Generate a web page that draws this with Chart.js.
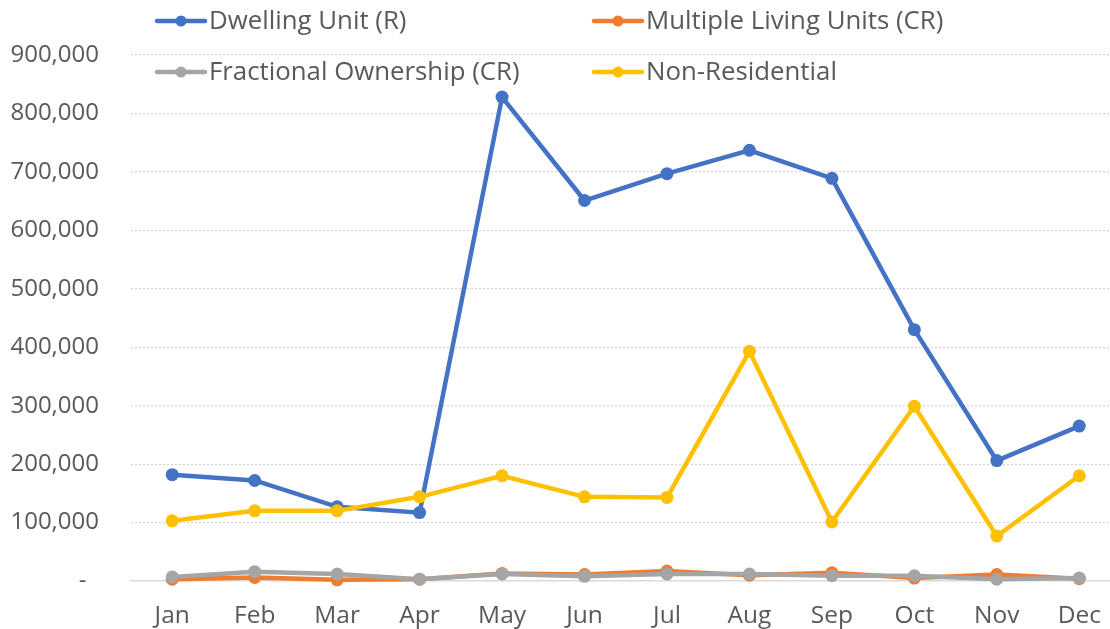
<!DOCTYPE html>
<html>
<head>
<meta charset="utf-8">
<script src="https://cdn.jsdelivr.net/npm/chart.js@4/dist/chart.umd.min.js"></script>
<style>
  html, body { margin: 0; padding: 0; background: #fff; overflow: hidden; }
  #wrap { width: 1127px; height: 629px; }
</style>
</head>
<body>
<div id="wrap"><canvas id="lineChart" width="1127" height="629"></canvas></div>
<script>
// chart values
const months = ['Jan', 'Feb', 'Mar', 'Apr', 'May', 'Jun', 'Jul', 'Aug', 'Sep', 'Oct', 'Nov', 'Dec'];
const dwellingUnit = [182000, 172000, 127000, 117000, 828000, 651000, 697000, 737000, 689000, 430000, 206000, 265000];
const multipleLiving = [3000, 6000, 2000, 3000, 13000, 11000, 17000, 10000, 14000, 5000, 11000, 4000];
const fractionalOwnership = [7000, 16000, 12000, 3000, 12000, 8000, 12000, 12000, 9000, 9000, 3000, 5000];
const nonResidential = [103000, 120000, 120000, 144000, 180000, 144000, 143000, 393000, 101000, 299000, 77000, 180000];
const yTicks = [0, 100000, 200000, 300000, 400000, 500000, 600000, 700000, 800000, 900000];

const FONT = '"Open Sans", "Liberation Sans", sans-serif';
const TEXT = '#595959';

function series(label, data, color, order) {
  return {
    label: label,
    data: data,
    borderColor: color,
    backgroundColor: color,
    borderWidth: 4.5,
    pointRadius: 6.5,
    pointHoverRadius: 6.5,
    pointBorderWidth: 0,
    tension: 0,
    clip: false,
    order: order
  };
}

// legend drawn in two columns, like the original
const legendCols = [155, 592];
const legendRows = [21, 72];
const legendPlugin = {
  id: 'gridLegend',
  afterDraw(chart) {
    const ctx = chart.ctx;
    ctx.save();
    chart.data.datasets.forEach(function(ds, i) {
      const x = legendCols[i % 2];
      const y = legendRows[Math.floor(i / 2)];
      ctx.strokeStyle = ds.borderColor;
      ctx.lineWidth = 4.5;
      ctx.lineCap = 'round';
      ctx.beginPath();
      ctx.moveTo(x + 2, y);
      ctx.lineTo(x + 50, y);
      ctx.stroke();
      ctx.fillStyle = ds.borderColor;
      ctx.beginPath();
      ctx.arc(x + 26, y, 5.5, 0, Math.PI * 2);
      ctx.fill();
      ctx.fillStyle = TEXT;
      ctx.font = '25.8px ' + FONT;
      ctx.textBaseline = 'middle';
      ctx.textAlign = 'left';
      ctx.fillText(ds.label, x + 54, y + 1);
    });
    ctx.restore();
  }
};

window.onload = function() {
  const ctx = document.getElementById('lineChart').getContext('2d');
  new Chart(ctx, {
    type: 'line',
    data: {
      labels: months,
      datasets: [
        series('Dwelling Unit (R)', dwellingUnit, '#4472C4', 4),
        series('Multiple Living Units (CR)', multipleLiving, '#ED7D31', 3),
        series('Fractional Ownership (CR)', fractionalOwnership, '#A5A5A5', 2),
        series('Non-Residential', nonResidential, '#FFC000', 1)
      ]
    },
    options: {
      responsive: false,
      animation: false,
      layout: { padding: { top: 55, right: 0, bottom: 0, left: 0 } },
      plugins: {
        legend: { display: false },
        tooltip: { enabled: false }
      },
      scales: {
        x: {
          offset: true,
          grid: { display: false, drawTicks: false, offset: true },
          border: { display: true, color: '#D9D9D9', width: 1.5 },
          ticks: { color: TEXT, font: { family: FONT, size: 24.5 }, padding: 20 },
          afterFit(scale) { scale.height = 48; }
        },
        y: {
          min: 0,
          max: 900000,
          afterBuildTicks(scale) { scale.ticks = yTicks.map(v => ({ value: v })); },
          grid: {
            drawTicks: false,
            color: c => (c.tick && c.tick.value === 0) ? 'rgba(0,0,0,0)' : '#D4D4D4',
            lineWidth: 1.2
          },
          border: { display: false, dash: [2, 2] },
          ticks: {
            color: TEXT,
            font: { family: FONT, size: 24 },
            padding: 32,
            callback: v => v === 0 ? '-  ' : v.toLocaleString('en-US')
          },
          afterFit(scale) { scale.width = 131; }
        }
      }
    },
    plugins: [legendPlugin]
  });
};
</script>
</body>
</html>
